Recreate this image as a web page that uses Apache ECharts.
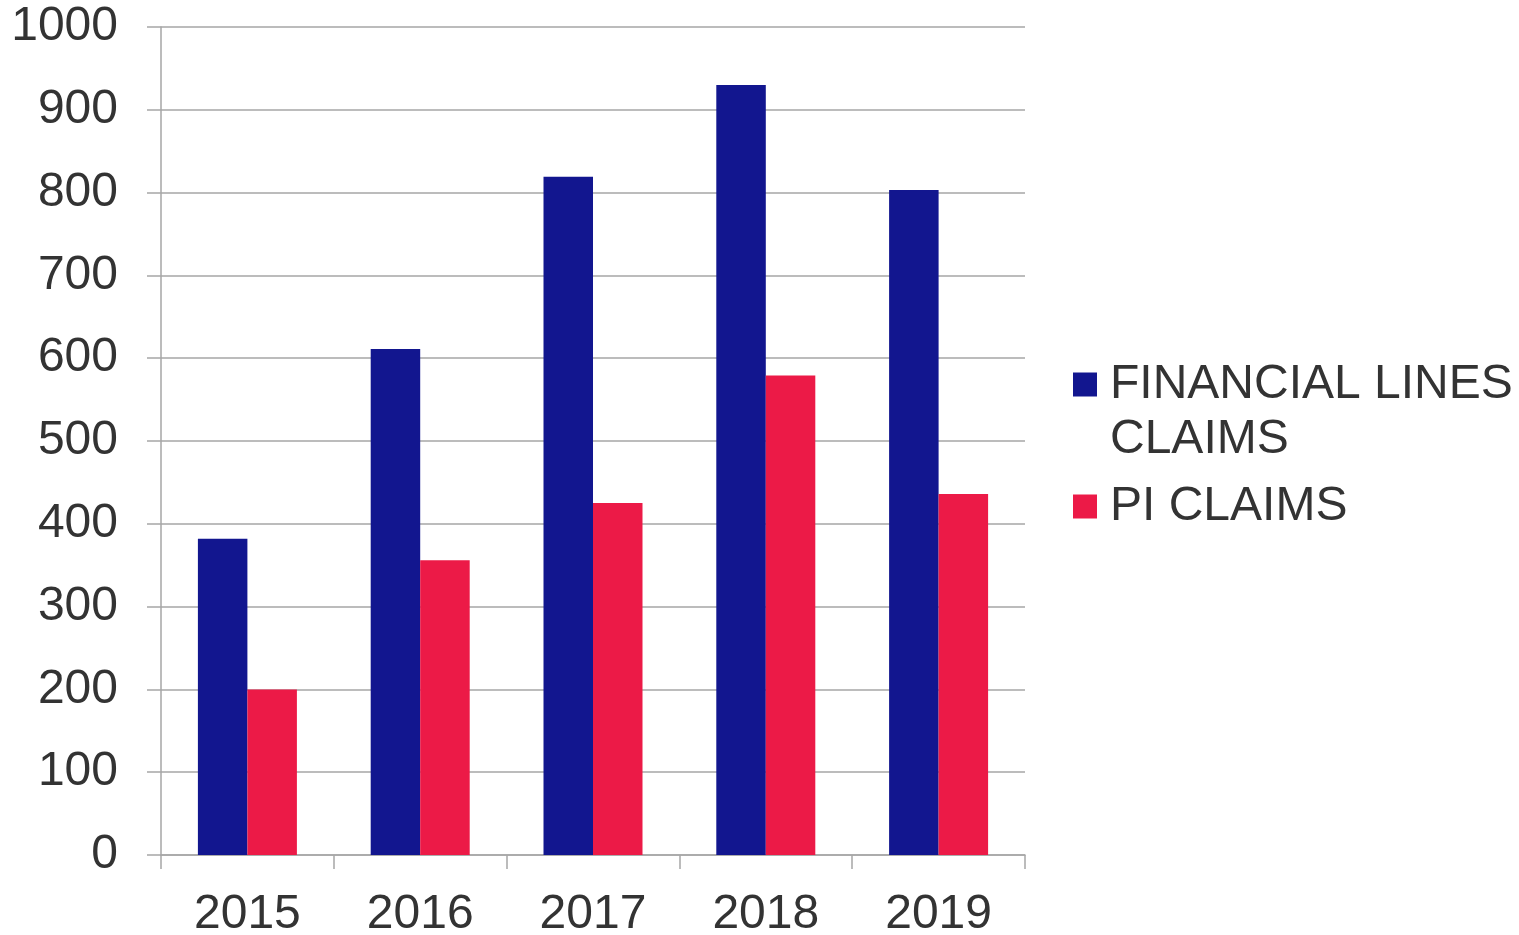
<!DOCTYPE html>
<html>
<head>
<meta charset="utf-8">
<script src="https://cdn.jsdelivr.net/npm/echarts@6/dist/echarts.min.js"></script>
<style>
  html, body { margin: 0; padding: 0; background: #fff; }
  #chart { width: 1519px; height: 935px; }
</style>
</head>
<body>
<div id="chart"></div>
<script>
const years = ['2015', '2016', '2017', '2018', '2019'];
const financialLines = [382, 611, 819, 930, 803];
const piClaims = [200, 356, 425, 579, 436];

const chart = echarts.init(document.getElementById('chart'));

const font = '"Liberation Sans", Arial, sans-serif';
const textColor = '#333333';
const lineColor = '#a6a6a6';

// legend text goes through rich tokens so it can sit 8px right of the square
const legendText = {
  fontFamily: font,
  fontSize: 48,
  color: textColor,
  lineHeight: 55,
  rich: {
    a: {
      fontFamily: font,
      fontSize: 48,
      color: textColor,
      lineHeight: 55,
      padding: [0, 0, 0, 8],
    },
  },
};

chart.setOption({
  animation: false,
  grid: {
    left: 161,
    right: 494,
    top: 27,
    bottom: 80,
    outerBoundsMode: 'none',
  },
  legend: [
    {
      data: ['FINANCIAL LINES CLAIMS'],
      // blank line on top keeps the square level with the first text line
      formatter: () => '{a| }\n{a|FINANCIAL LINES}\n{a|CLAIMS}',
      orient: 'vertical',
      left: 1073,
      top: 302,
      padding: 0,
      itemWidth: 24,
      itemHeight: 24,
      icon: 'rect',
      selectedMode: false,
      textStyle: legendText,
    },
    {
      data: ['PI CLAIMS'],
      formatter: (name) => '{a|' + name + '}',
      orient: 'vertical',
      left: 1073,
      top: 479,
      padding: 0,
      itemWidth: 24,
      itemHeight: 24,
      icon: 'rect',
      selectedMode: false,
      textStyle: legendText,
    },
  ],
  xAxis: {
    type: 'category',
    data: years,
    axisLine: { lineStyle: { color: lineColor, width: 1.5 } },
    axisTick: { show: true, length: 14, lineStyle: { color: lineColor, width: 1.5 } },
    axisLabel: {
      fontFamily: font,
      fontSize: 48,
      color: textColor,
      margin: 36,
    },
  },
  yAxis: {
    type: 'value',
    min: 0,
    max: 1000,
    interval: 100,
    axisLine: { show: true, lineStyle: { color: lineColor, width: 1.5 } },
    axisTick: { show: true, length: 14, lineStyle: { color: lineColor, width: 1.5 } },
    splitLine: { lineStyle: { color: lineColor, width: 1.5 } },
    axisLabel: {
      fontFamily: font,
      fontSize: 48,
      color: textColor,
      margin: 43,
      formatter: (v) => String(v),
    },
  },
  series: [
    {
      name: 'FINANCIAL LINES CLAIMS',
      type: 'bar',
      data: financialLines,
      barWidth: 49.5,
      barGap: 0,
      itemStyle: { color: '#12168f' },
    },
    {
      name: 'PI CLAIMS',
      type: 'bar',
      data: piClaims,
      barWidth: 49.5,
      barGap: 0,
      itemStyle: { color: '#ec1a47' },
    },
  ],
});
</script>
</body>
</html>
